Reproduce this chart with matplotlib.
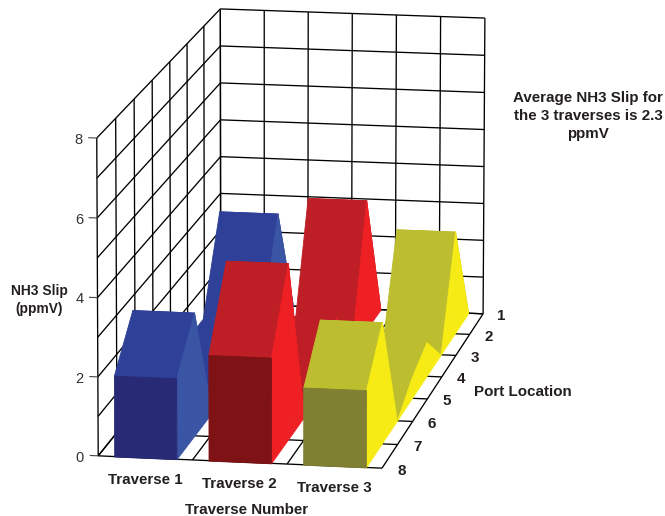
import numpy as np
import matplotlib
matplotlib.use('Agg')
import matplotlib.pyplot as plt
from mpl_toolkits.mplot3d import proj3d
from mpl_toolkits.mplot3d.art3d import Line3DCollection, Poly3DCollection

plt.rcParams['font.family'] = ['Liberation Sans', 'DejaVu Sans']

traverses = ['Traverse 1', 'Traverse 2', 'Traverse 3']
ports = ['1', '2', '3', '4', '5', '6', '7', '8']
z_ticks = [0, 2, 4, 6, 8]

# NH3 slip by port, ports 1 to 8
traverse1 = [0, 3.05, 0.7, 0.7, 0.4, 0, 3.15, 2.05]
traverse2 = [0, 3.5, 0, 1.45, 0.7, 0, 4.5, 2.67]
traverse3 = [0, 2.75, 0, 0.9, 0.55, 0, 3.1, 1.95]
series = [traverse1, traverse2, traverse3]

# top, side, front shades of each ribbon
top_colors = ['#2E4098', '#BE1E25', '#BDBE2F']
side_colors = ['#3B55A5', '#EE2024', '#F6EB14']
front_colors = ['#282A75', '#7F1214', '#808032']

W, H = 665, 516
fig = plt.figure(figsize=(W / 100, H / 100), dpi=100, facecolor='white')
ax = fig.add_axes([0, 0, 1, 1], projection='3d', computed_zorder=False)
ax.set_axis_off()

# camera: least squares fit of a projective matrix from box corners to pixels
corners = [(0, 0, 0, 98, 456), (3, 0, 0, 382, 468), (3, 7, 0, 483, 314),
           (0, 7, 0, 221, 303), (0, 0, 8, 97, 138), (0, 7, 8, 220, 9),
           (3, 7, 8, 485, 18)]
rows, rhs = [], []
for X, Y, Z, u, v in corners:
    rows.append([X, Y, Z, 1, 0, 0, 0, 0, -u * X, -u * Y, -u * Z])
    rows.append([0, 0, 0, 0, X, Y, Z, 1, -v * X, -v * Y, -v * Z])
    rhs += [u, v]
p = np.linalg.lstsq(np.array(rows, float), np.array(rhs, float), rcond=None)[0]
P = np.append(p, 1).reshape(3, 4)

ax.apply_aspect()
flip = np.array([[1, 0, 0], [0, -1, H], [0, 0, 1.0]])
Q = np.linalg.inv(ax.transData.get_matrix()) @ flip @ P
M = np.vstack([Q[0], Q[1], [0, 1, 0, 0], Q[2]])
ax.get_proj = lambda: M

# walls and floor
segs = []
for z in range(0, 9):
    segs.append([(0, 7, z), (3, 7, z)])
    segs.append([(0, 0, z), (0, 7, z)])
for x in np.arange(0, 3.5, 0.5):
    segs.append([(x, 7, 0), (x, 7, 8)])
    segs.append([(x, 0, 0), (x, 7, 0)])
for y in range(0, 8):
    segs.append([(0, y, 0), (0, y, 8)])
    segs.append([(0, y, 0), (3, y, 0)])
ax.add_collection3d(Line3DCollection(segs, colors='black', linewidths=0.95, zorder=1))

# z axis tick marks
ticks = [[(-0.09, 0, z), (0, 0, z)] for z in z_ticks]
ax.add_collection3d(Line3DCollection(ticks, colors='#444444', linewidths=0.8, zorder=1))

zorder = 1


def add_face(verts, color):
    global zorder
    zorder += 1
    ax.add_collection3d(Poly3DCollection([verts], facecolor=color, edgecolor=color,
                                         linewidth=0.6, zorder=zorder))


# ribbons, left to right and back to front
for i, values in enumerate(series):
    x0, x1 = i + 0.17, i + 0.83
    for k in range(len(values) - 1):
        y0, y1 = 7 - k, 6 - k
        h0, h1 = values[k], values[k + 1]
        add_face([(x0, y0, h0), (x1, y0, h0), (x1, y1, h1), (x0, y1, h1)], top_colors[i])
        add_face([(x1, y0, 0), (x1, y1, 0), (x1, y1, h1), (x1, y0, h0)], side_colors[i])
    h = values[-1]
    add_face([(x0, 0, 0), (x1, 0, 0), (x1, 0, h), (x0, 0, h)], front_colors[i])

label = dict(fontsize=10.9, fontweight='bold', color='#231F20', ha='center', va='center')


def box_text(x, y, z, s, **kw):
    # place a label at a point of the box, using the camera above
    u, v, _ = proj3d.proj_transform(x, y, z, M)
    ax.text2D(u, v, s, **kw)


for z in z_ticks:
    box_text(-0.15, 0, z - 0.06, str(z), fontsize=10.5, color='#333333', ha='right', va='center')
for i, name in enumerate(traverses):
    box_text(i + 0.5, 0, -0.56, name, **label)
for k, name in enumerate(ports):
    box_text(3.21, 7 - k, -0.04, name, **label)


def px_text(x, y, s, size=10.9, spacing=1.35):
    fig.text(x / W, 1 - y / H, s, linespacing=spacing, **{**label, 'fontsize': size})


px_text(39, 300, 'NH3 Slip\n(ppmV)', size=9.9, spacing=1.45)
px_text(247, 510, 'Traverse Number')
px_text(523, 392, 'Port Location')
px_text(588, 116, 'Average NH3 Slip for\nthe 3 traverses is 2.3\nppmV')

fig.savefig('out.png', dpi=100)
